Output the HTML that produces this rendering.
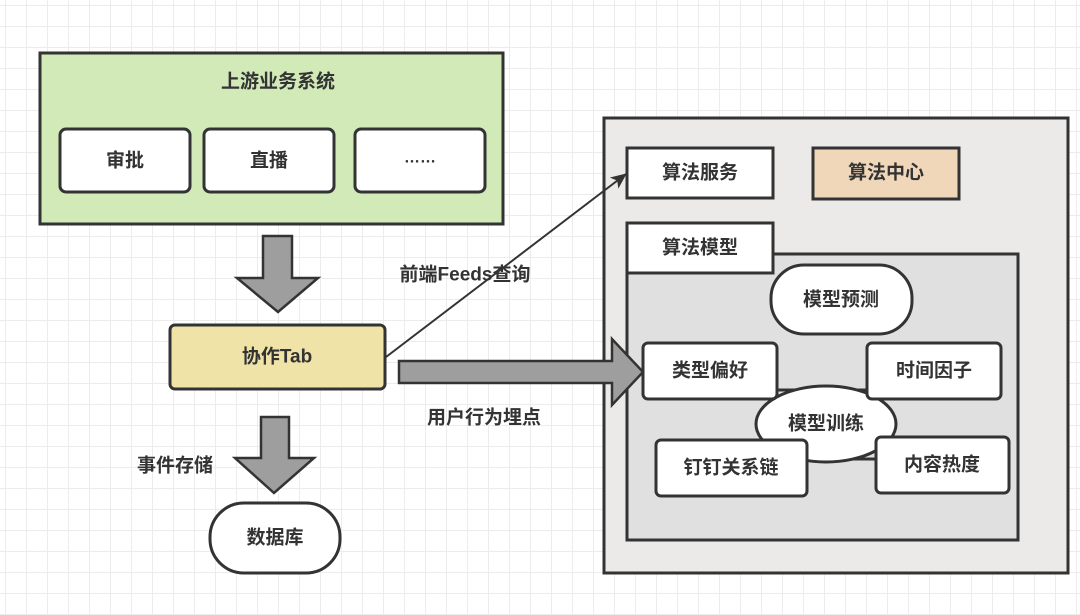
<!DOCTYPE html>
<html><head><meta charset="utf-8"><style>
html,body{margin:0;padding:0;}
body{width:1080px;height:615px;overflow:hidden;background:#fff;
background-image:linear-gradient(to right,#ececec 1px,transparent 1px),linear-gradient(to bottom,#ececec 1px,transparent 1px);
background-size:21px 21px;background-position:5px 5px;}
svg{position:absolute;left:0;top:0;}
text{font-family:"Liberation Sans","Noto Sans CJK SC",sans-serif;font-size:19px;font-weight:bold;fill:#333;text-anchor:middle;dominant-baseline:central;}
</style></head><body>
<svg width="1080" height="615" viewBox="0 0 1080 615">
<defs><marker id="ah" markerWidth="16" markerHeight="14" refX="15" refY="7" orient="auto" markerUnits="userSpaceOnUse" viewBox="0 0 16 14"><path d="M0,0 L16,7 L0,14 L4,7 z" fill="#333"/></marker></defs>
<g stroke="#333" stroke-width="3">
<rect x="40" y="53" width="463" height="171" fill="#d1eab8"/>
<rect x="60" y="129" width="130" height="63" rx="6" fill="#fff"/>
<rect x="204" y="129" width="130" height="63" rx="6" fill="#fff"/>
<rect x="355" y="129" width="130" height="63" rx="6" fill="#fff"/>
<path d="M263,236 H292 V278 H318 L278,312 L237,278 H263 Z" fill="#9e9e9e" stroke-width="2.5"/>
<rect x="170" y="325" width="215" height="64" rx="5" fill="#efe3a8"/>
<path d="M261,417 H289 V458 H314 L274,493 L235,458 H261 Z" fill="#9e9e9e" stroke-width="2.5"/>
<rect x="210" y="503" width="130" height="70" rx="34" fill="#fff"/>
<rect x="604" y="118" width="464" height="455" fill="#ebeae8"/>
<rect x="627" y="148" width="146" height="50" fill="#fff"/>
<rect x="813" y="148" width="146" height="51" fill="#f1d7ba"/>
<rect x="627" y="254" width="391" height="286" fill="#e0e0e0"/>
<rect x="627" y="223" width="146" height="50" fill="#fff"/>
<line x1="777" y1="390" x2="867" y2="390"/>
<line x1="807" y1="459" x2="876" y2="459"/>
<ellipse cx="826" cy="424" rx="70" ry="38" fill="#fff"/>
<rect x="771" y="265" width="141" height="69" rx="33" fill="#fff"/>
<rect x="643" y="343" width="134" height="56" rx="5" fill="#fff"/>
<rect x="867" y="343" width="134" height="56" rx="5" fill="#fff"/>
<rect x="656" y="440" width="151" height="56" rx="5" fill="#fff"/>
<rect x="876" y="437" width="133" height="56" rx="5" fill="#fff"/>
<path d="M399,361 H612 V339 L643,372 L612,405 V383 H399 Z" fill="#9e9e9e" stroke-width="2.5"/>
<line x1="386" y1="357" x2="626" y2="174" stroke-width="2" marker-end="url(#ah)"/>
</g>
<g stroke="none">
<text x="278" y="82">上游业务系统</text>
<text x="125" y="161">审批</text>
<text x="269" y="161">直播</text>
<text x="420" y="158" style="font-size:16px">……</text>
<text x="277" y="357">协作Tab</text>
<text x="275" y="538">数据库</text>
<text x="175" y="466">事件存储</text>
<text x="465" y="275">前端Feeds查询</text>
<text x="484" y="418">用户行为埋点</text>
<text x="700" y="173">算法服务</text>
<text x="886" y="173">算法中心</text>
<text x="700" y="248">算法模型</text>
<text x="841" y="300">模型预测</text>
<text x="710" y="371">类型偏好</text>
<text x="934" y="371">时间因子</text>
<text x="826" y="424">模型训练</text>
<text x="731" y="468">钉钉关系链</text>
<text x="942" y="465">内容热度</text>
</g>
</svg>
</body></html>
